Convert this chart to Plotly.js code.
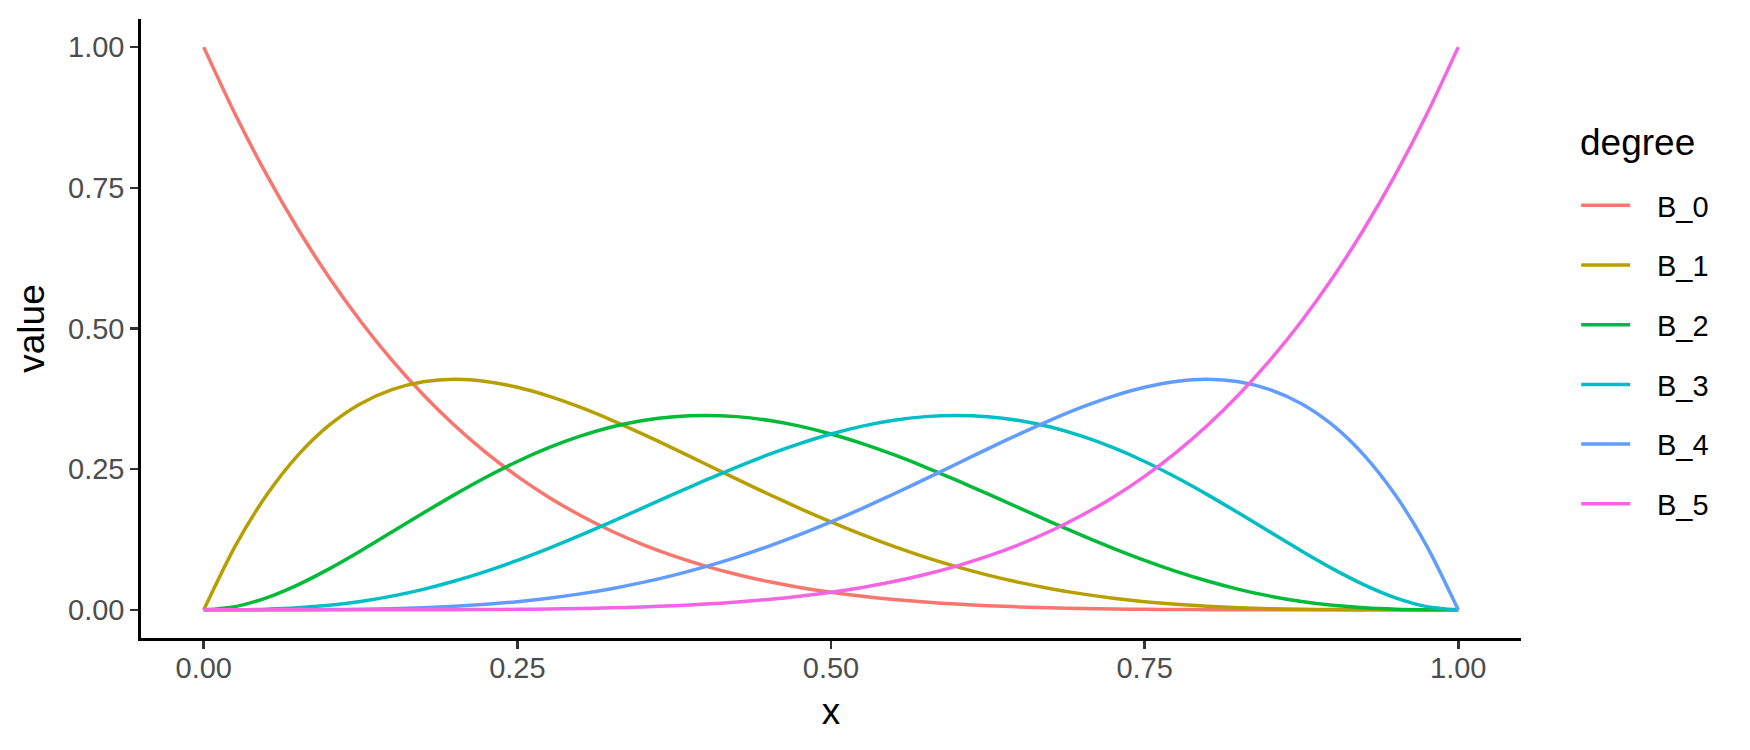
<!DOCTYPE html>
<html>
<head>
<meta charset="utf-8">
<script src="https://cdn.plot.ly/plotly-3.0.1.min.js"></script>
<style>html,body{margin:0;padding:0;background:#fff;}#chart{width:1750px;height:750px;}</style>
</head>
<body>
<div id="chart"></div>
<script>
const xValues = [0, 0.025, 0.05, 0.075, 0.1, 0.125, 0.15, 0.175, 0.2, 0.225, 0.25, 0.275, 0.3, 0.325, 0.35, 0.375, 0.4, 0.425, 0.45, 0.475, 0.5,
  0.525, 0.55, 0.575, 0.6, 0.625, 0.65, 0.675, 0.7, 0.725, 0.75, 0.775, 0.8, 0.825, 0.85, 0.875, 0.9, 0.925, 0.95, 0.975, 1];
const seriesNames = ["B_0", "B_1", "B_2", "B_3", "B_4", "B_5"];
const B_0 = [1, 0.8811, 0.7738, 0.6772, 0.5905, 0.5129, 0.4437, 0.3822, 0.3277, 0.2796, 0.2373, 0.2003, 0.1681, 0.1401, 0.1160, 0.0954, 0.0778, 0.0629, 0.0503, 0.0399, 0.03125,
  0.02418, 0.01845, 0.01387, 0.01024, 0.00742, 0.00525, 0.00363, 0.00243, 0.00157, 0.00098, 0.00058, 0.00032, 0.00016, 0.000076, 0.00003, 0.00001, 0.000002, 0, 0, 0];
const B_1 = [0, 0.11296, 0.2036, 0.27454, 0.3281, 0.36636, 0.3915, 0.40534, 0.4096, 0.40584, 0.3955, 0.37989, 0.3602, 0.33734, 0.3124, 0.2861, 0.2592, 0.23229, 0.2059, 0.18043, 0.1563,
  0.13363, 0.1128, 0.093797, 0.0768, 0.061798, 0.0488, 0.037655, 0.0284, 0.020732, 0.0146, 0.0099313, 0.0064, 0.0038688, 0.00215, 0.0010681, 0.00045, 0.00014634, 0.00003, 0.0000019, 0];
const B_2 = [0, 0.005793, 0.0214, 0.044519, 0.0729, 0.10468, 0.1382, 0.17196, 0.2048, 0.23565, 0.2637, 0.28819, 0.3087, 0.32485, 0.3364, 0.34332, 0.3456, 0.34338, 0.3369, 0.32649, 0.3125,
  0.29539, 0.2757, 0.25381, 0.2304, 0.20599, 0.1811, 0.15641, 0.1323, 0.10931, 0.0879, 0.068415, 0.0512, 0.036477, 0.0244, 0.014954, 0.0081, 0.0036097, 0.00113, 0.0001485, 0];
const B_3 = [0, 0.0001485, 0.00113, 0.0036097, 0.0081, 0.014954, 0.0244, 0.036477, 0.0512, 0.068415, 0.0879, 0.10931, 0.1323, 0.15641, 0.1811, 0.20599, 0.2304, 0.25381, 0.2757, 0.29539, 0.3125,
  0.32649, 0.3369, 0.34338, 0.3456, 0.34332, 0.3364, 0.32485, 0.3087, 0.28819, 0.2637, 0.23565, 0.2048, 0.17196, 0.1382, 0.10468, 0.0729, 0.044519, 0.0214, 0.005793, 0];
const B_4 = [0, 0.0000019, 0.00003, 0.00014634, 0.00045, 0.0010681, 0.00215, 0.0038688, 0.0064, 0.0099313, 0.0146, 0.020732, 0.0284, 0.037655, 0.0488, 0.061798, 0.0768, 0.093797, 0.1128, 0.13363, 0.1563,
  0.18043, 0.2059, 0.23229, 0.2592, 0.2861, 0.3124, 0.33734, 0.3602, 0.37989, 0.3955, 0.40584, 0.4096, 0.40534, 0.3915, 0.36636, 0.3281, 0.27454, 0.2036, 0.11296, 0];
const B_5 = [0, 0, 0, 0.000002, 0.00001, 0.00003, 0.000076, 0.00016, 0.00032, 0.00058, 0.00098, 0.00157, 0.00243, 0.00363, 0.00525, 0.00742, 0.01024, 0.01387, 0.01845, 0.02418, 0.03125,
  0.0399, 0.0503, 0.0629, 0.0778, 0.0954, 0.1160, 0.1401, 0.1681, 0.2003, 0.2373, 0.2796, 0.3277, 0.3822, 0.4437, 0.5129, 0.5905, 0.6772, 0.7738, 0.8811, 1];
const tickVals = [0, 0.25, 0.5, 0.75, 1];
const tickText = ["0.00", "0.25", "0.50", "0.75", "1.00"];
const legendTitle = "degree";
const colors = ["#F8766D", "#B79F00", "#00BA38", "#00BFC4", "#619CFF", "#F564E3"];

const allSeries = [B_0, B_1, B_2, B_3, B_4, B_5];
const traces = allSeries.map((ys, i) => ({
  type: "scatter",
  mode: "lines",
  x: xValues,
  y: ys,
  name: "\u2002\u2005" + seriesNames[i],
  legendgroup: seriesNames[i],
  line: {color: colors[i], width: 3.5, shape: "spline", smoothing: 0.8},
  hoverinfo: "skip"
}));

const FONT = "Liberation Sans, Arial, Helvetica, sans-serif";
const axisCommon = {
  range: [-0.05, 1.05],
  tickvals: tickVals,
  ticktext: tickText,
  showgrid: false,
  zeroline: false,
  showline: true,
  linecolor: "#000",
  linewidth: 2.7,
  ticks: "outside",
  ticklen: 8,
  tickwidth: 2.5,
  tickcolor: "#333333",
  tickfont: {family: FONT, size: 29, color: "#4D4D4D"},
  fixedrange: true
};

const layout = {
  width: 1750,
  height: 750,
  margin: {l: 141, r: 229, t: 19, b: 112, pad: 0},
  paper_bgcolor: "#fff",
  plot_bgcolor: "#fff",
  font: {family: FONT, color: "#000"},
  xaxis: Object.assign({}, axisCommon, {
    ticklabelstandoff: -6,
    title: {text: "x", font: {family: FONT, size: 37, color: "#000"}, standoff: 16}
  }),
  yaxis: Object.assign({}, axisCommon, {
    title: {text: "value", font: {family: FONT, size: 37, color: "#000"}, standoff: 12}
  }),
  showlegend: true,
  legend: {
    x: 1.04,
    y: 0.74,
    xanchor: "left",
    yanchor: "top",
    itemwidth: 49,
    font: {family: FONT, size: 29, color: "#000"},
    tracegroupgap: 19,
    bgcolor: "rgba(0,0,0,0)"
  },
  annotations: [{
    text: legendTitle,
    xref: "paper", yref: "paper",
    x: (1578 - 141) / 1380, y: (638 - 142) / 619,
    xanchor: "left", yanchor: "middle",
    showarrow: false,
    font: {family: FONT, size: 37, color: "#000"}
  }]
};

Plotly.newPlot("chart", traces, layout, {displayModeBar: false, staticPlot: true});
</script>
</body>
</html>
